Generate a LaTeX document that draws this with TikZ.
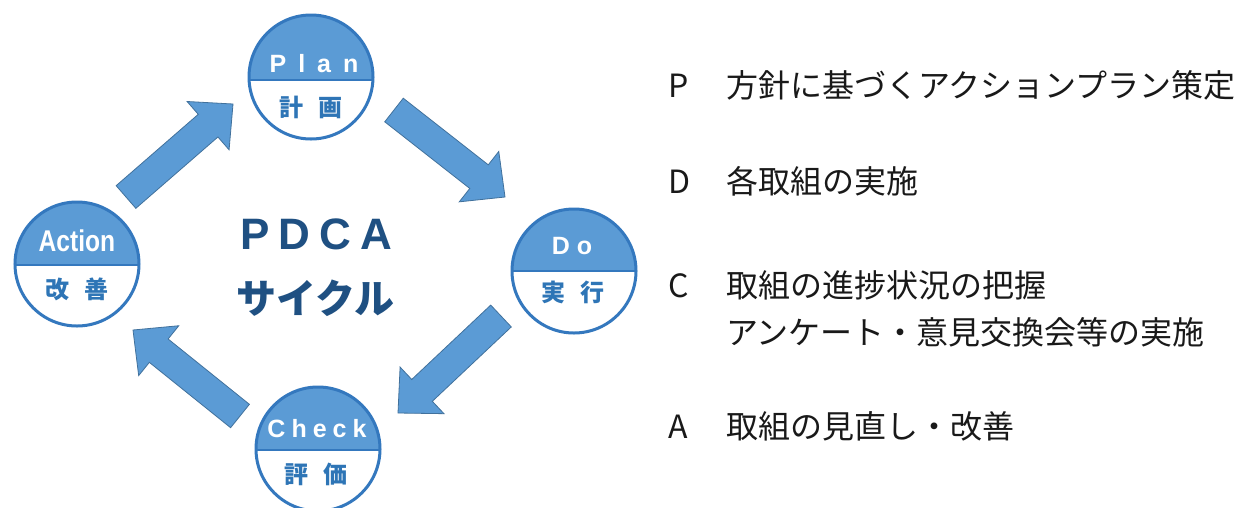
\documentclass[tikz,border=0pt]{standalone}
\usepackage{fontspec}
\usetikzlibrary{calc}
\newfontfamily\jp{Noto Sans CJK JP}
\newfontfamily\arialf{Liberation Sans}
\definecolor{lblue}{RGB}{91,155,213}
\definecolor{cborder}{RGB}{52,120,190}
\definecolor{aborder}{RGB}{65,113,156}
\definecolor{kblue}{RGB}{46,117,182}
\definecolor{navy}{RGB}{31,80,130}
\definecolor{txt}{RGB}{25,25,25}
\tikzset{
  phase/.style={circle, draw=cborder, line width=3pt, fill=white, minimum size=124pt, inner sep=0pt,
    path picture={
      \fill[lblue] (path picture bounding box.north west) rectangle ($(path picture bounding box.east)+(0pt,-#1)$);
      \draw[cborder, line width=2pt] ($(path picture bounding box.west)+(0pt,-#1)$) -- ($(path picture bounding box.east)+(0pt,-#1)$);
    }},
  enlabel/.style={text=white, font=\arialf\bfseries\fontsize{25}{30}\selectfont, inner sep=0pt},
  jalabel/.style={text=kblue, font=\jp\bfseries\fontsize{24}{28}\selectfont, inner sep=0pt},
  bigtext/.style={text=navy, inner sep=0pt},
  listtext/.style={text=txt, font=\jp\fontsize{32}{38}\selectfont, inner sep=0pt, anchor=base west},
  blockarr/.style={fill=lblue, draw=aborder, line width=0.8pt, line join=miter}
}
\newcommand{\blockarrow}[2]{%
  \coordinate (hb) at ($(#2)!33pt!(#1)$);
  \path[blockarr] ($(#1)!15pt!90:(#2)$) -- ($(hb)!15pt!90:(#2)$) -- ($(hb)!32pt!90:(#2)$) -- (#2)
    -- ($(hb)!32pt!-90:(#2)$) -- ($(hb)!15pt!-90:(#2)$) -- ($(#1)!15pt!-90:(#2)$) -- cycle;
}
\begin{document}
\begin{tikzpicture}[x=1pt,y=-1pt]
\fill[white] (0,0) rectangle (1241,507);
\useasboundingbox (0,0) rectangle (1241,507);

% arrows
\coordinate (a1t) at (126,197); \coordinate (a1h) at (233,104);
\coordinate (a2t) at (394,110); \coordinate (a2h) at (505,197);
\coordinate (a3t) at (501,316); \coordinate (a3h) at (398,413);
\coordinate (a4t) at (240,416); \coordinate (a4h) at (133,330);
\blockarrow{a1t}{a1h}
\blockarrow{a2t}{a2h}
\blockarrow{a3t}{a3h}
\blockarrow{a4t}{a4h}

% circles
\node[phase=3pt] (plan) at (311,77) {};
\node[phase=1pt] (action) at (77,264) {};
\node[phase=0pt] (do) at (574,271) {};
\node[phase=1pt] (check) at (318,449) {};

\node[enlabel] (planEn) at (314,64) {P\hspace{12pt}l\hspace{12pt}a\hspace{12pt}n};
\node[jalabel] (planJa) at (311,107) {計\hspace{15pt}画};
\node[enlabel] (actionEn) at (77,241) {\fontsize{30}{36}\selectfont\scalebox{0.82}[1]{Action}};
\node[jalabel] (actionJa) at (77,289) {改\hspace{15pt}善};
\node[enlabel] (doEn) at (572,246) {D\hspace{7pt}o};
\node[jalabel] (doJa) at (573,292) {実\hspace{15pt}行};
\node[enlabel] (checkEn) at (317,429) {C\hspace{6pt}h\hspace{6pt}e\hspace{6pt}c\hspace{6pt}k};
\node[jalabel] (checkJa) at (316,474) {評\hspace{15pt}価};

% centre title
\node[bigtext, font=\arialf\bfseries\fontsize{44}{50}\selectfont] (pdca) at (316,234) {P\hspace{9pt}D\hspace{9pt}C\hspace{9pt}A};
\node[bigtext, font=\jp\bfseries\fontsize{40}{46}\selectfont] (cycle) at (315,298) {サイクル};

% list
\node[listtext] (lP) at (668,97) {P};
\node[listtext] (tP) at (726,97) {方針に基づくアクションプラン策定};
\node[listtext] (lD) at (668,193) {D};
\node[listtext] (tD) at (726,193) {各取組の実施};
\node[listtext] (lC) at (668,297) {C};
\node[listtext] (tC) at (726,297) {取組の進捗状況の把握};
\node[listtext] (tC2) at (726,344) {アンケート・意見交換会等の実施};
\node[listtext] (lA) at (668,438) {A};
\node[listtext] (tA) at (726,438) {取組の見直し・改善};
\end{tikzpicture}
\end{document}
